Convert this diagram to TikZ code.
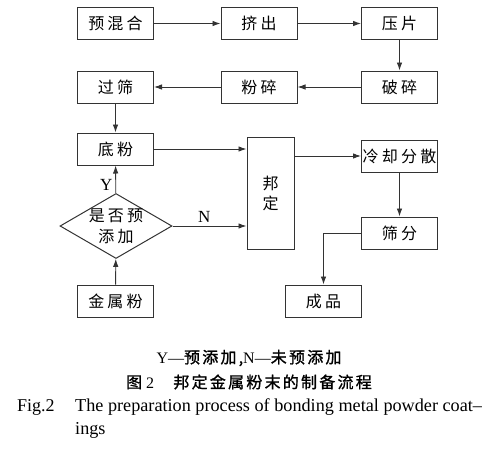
\documentclass[tikz,border=0pt]{standalone}
\usepackage{fontspec}
\setmainfont{Liberation Serif}
\newfontfamily\cjk[LetterSpace=20]{Noto Sans CJK SC}
\newfontfamily\cjkb[LetterSpace=14,FakeBold=1.2]{Noto Sans CJK SC}
\usetikzlibrary{%
	arrows.meta,%
	shapes.geometric
}
\tikzset{
	stepbox/.style={draw=black!80, line width=1pt, minimum width=76pt, minimum height=32pt, inner sep=0pt, font=\cjk\fontsize{16}{20}\selectfont},
	flow/.style={->, draw=black!80, line width=0.9pt, >={Latex[length=8pt,width=5.5pt]}},
	yn/.style={font=\fontsize{17}{20}\selectfont, inner sep=3pt}
}

\begin{document}
\begin{tikzpicture}[x=1pt, y=-1pt]
		\useasboundingbox (0,0) rectangle (503,453);
		% Nodes
		\node[stepbox] (yhh) at (115.5,23.5) {预混合};
		\node[stepbox] (jc) at (259,23.5) {挤出};
		\node[stepbox] (yp) at (399.5,23.5) {压片};
		\node[stepbox] (gs) at (115.5,87) {过筛};
		\node[stepbox] (fs) at (259,87) {粉碎};
		\node[stepbox] (ps) at (399.5,87) {破碎};
		\node[stepbox] (df) at (115.5,149) {底粉};
		\node[diamond, draw=black!80, line width=1pt, minimum width=112pt, minimum height=65pt, inner sep=0pt] (tj) at (116,226) {};
		\node[font=\cjk\fontsize{16}{21}\selectfont, align=center] (tjtext) at (tj) {是否预\\添加};
		\node[stepbox] (jsf) at (115.5,301) {金属粉};
		\node[stepbox, minimum width=47pt, minimum height=112pt, align=center, font=\cjk\fontsize{16}{20}\selectfont] (bd) at (270.5,193) {邦\\定};
		\node[stepbox] (lq) at (399.5,156) {冷却分散};
		\node[stepbox] (sf) at (399.5,233) {筛分};
		\node[stepbox] (cp) at (323.5,301) {成品};
		
		% Arrows
		\draw[flow] (yhh) -- (jc);
		\draw[flow] (jc) -- (yp);
		\draw[flow] (yp) -- (ps);
		\draw[flow] (ps) -- (fs);
		\draw[flow] (fs) -- (gs);
		\draw[flow] (gs) -- (df);
		\draw[flow] (jsf) -- (tj);
		\draw[flow] (tj) -- node[left, yn, pos=0.3] {Y} (df);
		\draw[flow] (df.east) -- (bd.west |- df.east);
		\draw[flow] (tj.east) -- node[above, yn, pos=0.43] {N} (bd.west |- tj.east);
		\draw[flow] (bd.east |- lq.west) -- (lq.west);
		\draw[flow] (lq) -- (sf);
		\draw[flow] (sf.west) -| (cp.north);
		
		% Caption
		\node[font=\cjkb\fontsize{16}{20}\selectfont] (cap1) at (249,358) {{\rmfamily Y—}预添加,{\rmfamily N—}未预添加};
		\node[font=\cjkb\fontsize{16}{20}\selectfont] (cap2) at (249,382) {图{\rmfamily\ 2}\hspace{1.2em}邦定金属粉末的制备流程};
		\node[font=\fontsize{18}{23}\selectfont, anchor=base west, inner sep=0pt] (cap3) at (17,411) {Fig.2};
		\node[font=\fontsize{18.2}{23}\selectfont, anchor=base west, inner sep=0pt] (cap4) at (75,411) {The preparation process of bonding metal powder coat--};
		\node[font=\fontsize{18.2}{23}\selectfont, anchor=base west, inner sep=0pt] (cap5) at (75,434) {ings};
	\end{tikzpicture}
\end{document}
